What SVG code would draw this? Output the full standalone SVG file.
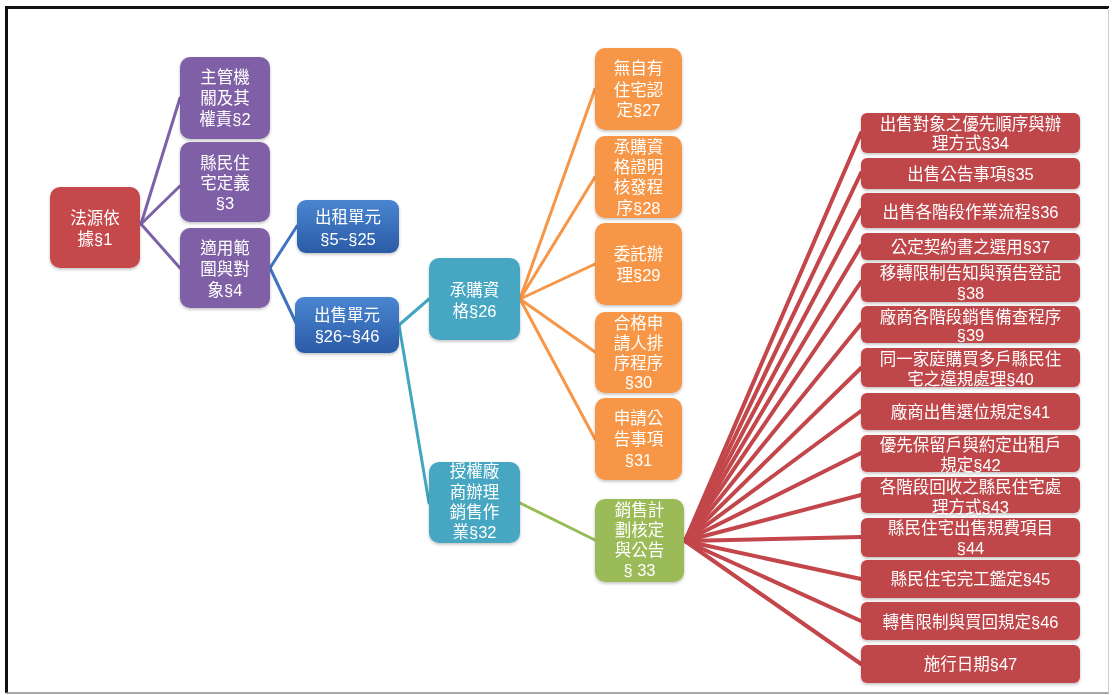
<svg xmlns="http://www.w3.org/2000/svg" width="1112" height="695" viewBox="0 0 1112 695">
  <style>
    .t { font-family: "Liberation Sans", "Noto Sans CJK TC", "Noto Sans CJK SC", sans-serif; font-size: 16.5px; fill: #ffffff; text-anchor: middle; dominant-baseline: central; }
    .lnk { fill: none; stroke-linecap: round; }
    .root { fill: #c5484b; }
    .pur { fill: #7f60a6; }
    .blu { fill: url(#blueGrad); }
    .tea { fill: #47a7c2; }
    .ora { fill: #f79646; }
    .grn { fill: #9bbb59; }
    .red { fill: #c0464a; }
    .node { filter: url(#soft); }
  </style>
  <defs>
    <linearGradient id="blueGrad" x1="0" y1="0" x2="0" y2="1">
      <stop offset="0" stop-color="#4a85d1"/>
      <stop offset="1" stop-color="#2a5ba6"/>
    </linearGradient>
    <filter id="soft" x="-10%" y="-10%" width="120%" height="125%">
      <feDropShadow dx="0" dy="1.5" stdDeviation="1.5" flood-color="#000" flood-opacity="0.25"/>
    </filter>
  </defs>

  <rect x="0" y="0" width="1112" height="695" fill="#ffffff"/>

  <!-- frame -->
  <g id="frame">
    <line x1="5" y1="7.5" x2="1109" y2="7.5" stroke="#111" stroke-width="3"/>
    <line x1="6.5" y1="6" x2="6.5" y2="693" stroke="#111" stroke-width="3"/>
    <line x1="6" y1="693" x2="1109" y2="693" stroke="#8a8a8a" stroke-width="1.5"/>
    <line x1="1108.5" y1="8" x2="1108.5" y2="693" stroke="#cfcfcf" stroke-width="1"/>
  </g>

  <!-- connectors -->
  <g id="connectors">
    <g class="lnk" stroke="#7d61a8" stroke-width="3">
      <line x1="141" y1="224" x2="180" y2="98"/>
      <line x1="141" y1="224" x2="180" y2="186"/>
      <line x1="141" y1="224" x2="180" y2="268"/>
    </g>
    <g class="lnk" stroke="#3f74c2" stroke-width="3">
      <line x1="270" y1="268" x2="297" y2="226"/>
      <line x1="270" y1="268" x2="297" y2="325"/>
    </g>
    <g class="lnk" stroke="#43a6c0" stroke-width="3">
      <line x1="399" y1="325" x2="429" y2="299"/>
      <line x1="399" y1="325" x2="429" y2="503"/>
    </g>
    <g class="lnk" stroke="#f79646" stroke-width="3">
      <line x1="520" y1="299" x2="595" y2="89"/>
      <line x1="520" y1="299" x2="595" y2="177"/>
      <line x1="520" y1="299" x2="595" y2="264"/>
      <line x1="520" y1="299" x2="595" y2="352"/>
      <line x1="520" y1="299" x2="595" y2="439"/>
    </g>
    <g class="lnk" stroke="#9bbb59" stroke-width="3">
      <line x1="520" y1="503" x2="595" y2="540"/>
    </g>
    <g class="lnk" stroke="#c3464b" stroke-width="4">
      <line x1="685" y1="541" x2="861" y2="133"/>
      <line x1="685" y1="541" x2="861" y2="173"/>
      <line x1="685" y1="541" x2="861" y2="210"/>
      <line x1="685" y1="541" x2="861" y2="246"/>
      <line x1="685" y1="541" x2="861" y2="282"/>
      <line x1="685" y1="541" x2="861" y2="324"/>
      <line x1="685" y1="541" x2="861" y2="368"/>
      <line x1="685" y1="541" x2="861" y2="411"/>
      <line x1="685" y1="541" x2="861" y2="453"/>
      <line x1="685" y1="541" x2="861" y2="495"/>
      <line x1="685" y1="541" x2="861" y2="537"/>
      <line x1="685" y1="541" x2="861" y2="579"/>
      <line x1="685" y1="541" x2="861" y2="621"/>
      <line x1="685" y1="541" x2="861" y2="664"/>
    </g>
  </g>

  <!-- level 0 -->
  <g id="n1" class="node">
    <rect class="root" x="50" y="187" width="90" height="81" rx="10"/>
    <text class="t" x="95" y="218">法源依</text>
    <text class="t" x="95" y="239">據§1</text>
  </g>

  <!-- level 1 -->
  <g id="n2" class="node">
    <rect class="pur" x="180" y="57" width="90" height="82" rx="10"/>
    <text class="t" x="225" y="77">主管機</text>
    <text class="t" x="225" y="98">關及其</text>
    <text class="t" x="225" y="119">權責§2</text>
  </g>
  <g id="n3" class="node">
    <rect class="pur" x="180" y="142" width="90" height="80" rx="10"/>
    <text class="t" x="225" y="163">縣民住</text>
    <text class="t" x="225" y="183">宅定義</text>
    <text class="t" x="225" y="203">§3</text>
  </g>
  <g id="n4" class="node">
    <rect class="pur" x="180" y="228" width="90" height="80" rx="10"/>
    <text class="t" x="225" y="248">適用範</text>
    <text class="t" x="225" y="269">圍與對</text>
    <text class="t" x="225" y="290">象§4</text>
  </g>

  <!-- level 2 -->
  <g id="n5" class="node">
    <rect class="blu" x="297" y="200" width="102" height="53" rx="9"/>
    <text class="t" x="348" y="217">出租單元</text>
    <text class="t" x="348" y="239">§5~§25</text>
  </g>
  <g id="n6" class="node">
    <rect class="blu" x="295" y="297" width="104" height="56" rx="9"/>
    <text class="t" x="347" y="315">出售單元</text>
    <text class="t" x="347" y="336">§26~§46</text>
  </g>

  <!-- level 3 -->
  <g id="n26" class="node">
    <rect class="tea" x="429" y="258" width="91" height="82" rx="10"/>
    <text class="t" x="474.5" y="290">承購資</text>
    <text class="t" x="474.5" y="311">格§26</text>
  </g>
  <g id="n32" class="node">
    <rect class="tea" x="429" y="462" width="91" height="81" rx="10"/>
    <text class="t" x="474.5" y="471">授權廠</text>
    <text class="t" x="474.5" y="492">商辦理</text>
    <text class="t" x="474.5" y="512">銷售作</text>
    <text class="t" x="474.5" y="532">業§32</text>
  </g>

  <!-- level 4 -->
  <g id="n27" class="node">
    <rect class="ora" x="595" y="48" width="87" height="82" rx="10"/>
    <text class="t" x="638.5" y="68">無自有</text>
    <text class="t" x="638.5" y="90">住宅認</text>
    <text class="t" x="638.5" y="110">定§27</text>
  </g>
  <g id="n28" class="node">
    <rect class="ora" x="595" y="136" width="87" height="82" rx="10"/>
    <text class="t" x="638.5" y="147">承購資</text>
    <text class="t" x="638.5" y="167">格證明</text>
    <text class="t" x="638.5" y="187">核發程</text>
    <text class="t" x="638.5" y="208">序§28</text>
  </g>
  <g id="n29" class="node">
    <rect class="ora" x="595" y="223" width="87" height="82" rx="10"/>
    <text class="t" x="638.5" y="254">委託辦</text>
    <text class="t" x="638.5" y="275">理§29</text>
  </g>
  <g id="n30" class="node">
    <rect class="ora" x="595" y="312" width="87" height="81" rx="10"/>
    <text class="t" x="638.5" y="323">合格申</text>
    <text class="t" x="638.5" y="343">請人排</text>
    <text class="t" x="638.5" y="363">序程序</text>
    <text class="t" x="638.5" y="382">§30</text>
  </g>
  <g id="n31" class="node">
    <rect class="ora" x="595" y="398" width="87" height="82" rx="10"/>
    <text class="t" x="638.5" y="418">申請公</text>
    <text class="t" x="638.5" y="439">告事項</text>
    <text class="t" x="638.5" y="460">§31</text>
  </g>
  <g id="n33" class="node">
    <rect class="grn" x="595" y="499" width="89" height="83" rx="10"/>
    <text class="t" x="639.5" y="510">銷售計</text>
    <text class="t" x="639.5" y="530">劃核定</text>
    <text class="t" x="639.5" y="550">與公告</text>
    <text class="t" x="639.5" y="570">§ 33</text>
  </g>

  <!-- level 5 -->
  <g id="n34" class="node">
    <rect class="red" x="861" y="113" width="219" height="40" rx="6"/>
    <text class="t" x="970.5" y="124">出售對象之優先順序與辦</text>
    <text class="t" x="970.5" y="143">理方式§34</text>
  </g>
  <g id="n35" class="node">
    <rect class="red" x="861" y="158" width="219" height="31" rx="6"/>
    <text class="t" x="970.5" y="174">出售公告事項§35</text>
  </g>
  <g id="n36" class="node">
    <rect class="red" x="861" y="193" width="219" height="35" rx="6"/>
    <text class="t" x="970.5" y="212">出售各階段作業流程§36</text>
  </g>
  <g id="n37" class="node">
    <rect class="red" x="861" y="233" width="219" height="27" rx="6"/>
    <text class="t" x="970.5" y="247">公定契約書之選用§37</text>
  </g>
  <g id="n38" class="node">
    <rect class="red" x="861" y="263" width="219" height="39" rx="6"/>
    <text class="t" x="970.5" y="273">移轉限制告知與預告登記</text>
    <text class="t" x="970.5" y="293">§38</text>
  </g>
  <g id="n39" class="node">
    <rect class="red" x="861" y="306" width="219" height="37" rx="6"/>
    <text class="t" x="970.5" y="317">廠商各階段銷售備查程序</text>
    <text class="t" x="970.5" y="335">§39</text>
  </g>
  <g id="n40" class="node">
    <rect class="red" x="861" y="348" width="219" height="39" rx="6"/>
    <text class="t" x="970.5" y="359">同一家庭購買多戶縣民住</text>
    <text class="t" x="970.5" y="379">宅之違規處理§40</text>
  </g>
  <g id="n41" class="node">
    <rect class="red" x="861" y="393" width="219" height="37" rx="6"/>
    <text class="t" x="970.5" y="412">廠商出售選位規定§41</text>
  </g>
  <g id="n42" class="node">
    <rect class="red" x="861" y="435" width="219" height="37" rx="6"/>
    <text class="t" x="970.5" y="445">優先保留戶與約定出租戶</text>
    <text class="t" x="970.5" y="465">規定§42</text>
  </g>
  <g id="n43" class="node">
    <rect class="red" x="861" y="477" width="219" height="36" rx="6"/>
    <text class="t" x="970.5" y="487">各階段回收之縣民住宅處</text>
    <text class="t" x="970.5" y="507">理方式§43</text>
  </g>
  <g id="n44" class="node">
    <rect class="red" x="861" y="518" width="219" height="39" rx="6"/>
    <text class="t" x="970.5" y="528">縣民住宅出售規費項目</text>
    <text class="t" x="970.5" y="548">§44</text>
  </g>
  <g id="n45" class="node">
    <rect class="red" x="861" y="560" width="219" height="38" rx="6"/>
    <text class="t" x="970.5" y="579">縣民住宅完工鑑定§45</text>
  </g>
  <g id="n46" class="node">
    <rect class="red" x="861" y="602" width="219" height="38" rx="6"/>
    <text class="t" x="970.5" y="622">轉售限制與買回規定§46</text>
  </g>
  <g id="n47" class="node">
    <rect class="red" x="861" y="645" width="219" height="38" rx="6"/>
    <text class="t" x="970.5" y="664">施行日期§47</text>
  </g>
</svg>
